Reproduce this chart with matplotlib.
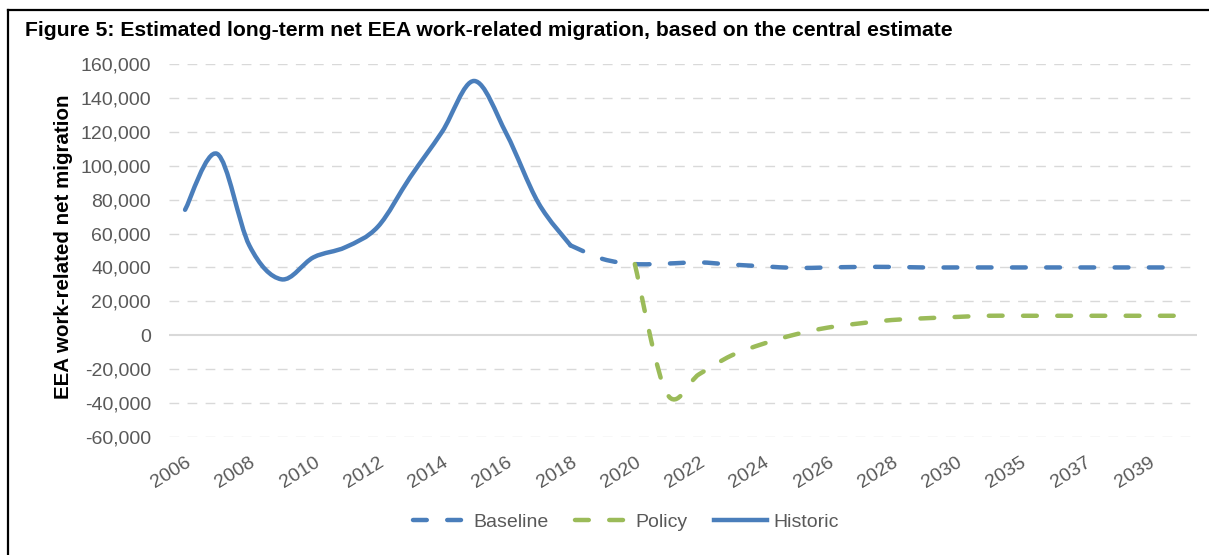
import numpy as np
import matplotlib
matplotlib.use('Agg')
import matplotlib.pyplot as plt
from matplotlib.path import Path
from matplotlib.patches import PathPatch
from matplotlib.lines import Line2D
from matplotlib.ticker import FuncFormatter

plt.rcParams['font.family'] = ['Liberation Sans', 'DejaVu Sans']

# categories on the x axis (every other one is labelled)
years = [str(y) for y in range(2006, 2031)] + ['2031', '2035', '2036', '2037', '2038', '2039', '2040']

# Historic: 2006-2018
historic = [74000, 107000, 53000, 33000, 46000, 52000, 64000, 93000, 120000, 150000, 119000, 78000, 53000]
# Baseline: 2018 onwards
baseline = [53000, 45000, 42000, 42300, 43000, 41700, 40700, 39700, 40000, 40300, 40300, 40000,
            40000, 40000, 40000, 40000, 40000, 40000, 40000, 40000]
# Policy: 2020 onwards
policy = [42000, -34500, -23000, -12000, -5000, 500, 4500, 7000, 9000, 10000, 10800, 11500,
          11500, 11500, 11500, 11500, 11500, 11500]

blue = '#4A7EBB'
green = '#9BBB59'
grey_text = '#595959'
grid_col = '#D9D9D9'


def smooth_path(xs, ys):
    # excel style smoothed line: bezier segments through every point
    pts = np.column_stack([xs, ys]).astype(float)
    n = len(pts)
    verts = [pts[0]]
    codes = [Path.MOVETO]
    for i in range(n - 1):
        p0 = pts[i - 1] if i > 0 else pts[i]
        p1 = pts[i]
        p2 = pts[i + 1]
        p3 = pts[i + 2] if i + 2 < n else pts[i + 1]
        verts += [p1 + (p2 - p0) / 6, p2 - (p3 - p1) / 6, p2]
        codes += [Path.CURVE4] * 3
    return Path(verts, codes)


fig = plt.figure(figsize=(12.09, 5.55), dpi=100)
ax = fig.add_axes([169 / 1209, 1 - 437 / 555, (1197 - 169) / 1209, (437 - 64) / 555])

x_hist = np.arange(0, len(historic))
x_base = np.arange(12, 12 + len(baseline))
x_pol = np.arange(14, 14 + len(policy))

lw = 3.2
dash = (0, (3.1, 4.6))
ax.add_patch(PathPatch(smooth_path(x_base, baseline), fill=False, edgecolor=blue, lw=lw,
                       linestyle=dash, capstyle='round', joinstyle='round', zorder=3))
ax.add_patch(PathPatch(smooth_path(x_pol, policy), fill=False, edgecolor=green, lw=lw,
                       linestyle=dash, capstyle='round', joinstyle='round', zorder=3))
ax.add_patch(PathPatch(smooth_path(x_hist, historic), fill=False, edgecolor=blue, lw=lw,
                       capstyle='round', joinstyle='round', zorder=4))

ax.set_xlim(-0.5, len(years) - 0.5)
ax.set_ylim(-60000, 160000)
yt = np.arange(-60000, 160001, 20000)
ax.set_yticks(yt)
for v in yt:
    if v == 0:
        ax.axhline(v, color=grid_col, lw=1.5, zorder=1)
    else:
        ax.axhline(v, color=grid_col, lw=1.0, linestyle=(0, (7, 6)), zorder=1)
ax.yaxis.set_major_formatter(FuncFormatter(lambda v, p: f'{int(v):,}'))

ax.set_xticks(range(0, len(years), 2))
ax.set_xticklabels(years[0::2], rotation=32, ha='right', va='top', rotation_mode='anchor')
ax.tick_params(axis='both', length=0, labelsize=14, labelcolor=grey_text)
ax.tick_params(axis='x', pad=12)
ax.tick_params(axis='y', pad=13)
for s in ax.spines.values():
    s.set_visible(False)

ax.set_ylabel('EEA work-related net migration', fontsize=14.8, fontweight='bold')
ax.yaxis.set_label_coords(-0.093, 0.51)

fig.text(25 / 1209, 1 - 31 / 555, 'Figure 5: Estimated long-term net EEA work-related migration, based on the central estimate',
         fontsize=15.2, fontweight='bold', va='center', ha='left')

handles = [Line2D([], [], color=blue, lw=lw, linestyle=dash, dash_capstyle='round'),
           Line2D([], [], color=green, lw=lw, linestyle=dash, dash_capstyle='round'),
           Line2D([], [], color=blue, lw=lw)]
fig.legend(handles, ['Baseline', 'Policy', 'Historic'], loc='center', bbox_to_anchor=(0.518, 1 - 522 / 555),
           ncol=3, frameon=False, fontsize=14, handlelength=2.7, columnspacing=1.4, handletextpad=0.36,
           labelcolor=grey_text)

# frame of the figure box
fig.add_artist(Line2D([8 / 1209, 1], [1 - 10 / 555, 1 - 10 / 555], color='black', lw=1.6))
fig.add_artist(Line2D([8 / 1209, 8 / 1209], [0, 1 - 10 / 555], color='black', lw=1.6))

fig.savefig('out.png', dpi=100)
